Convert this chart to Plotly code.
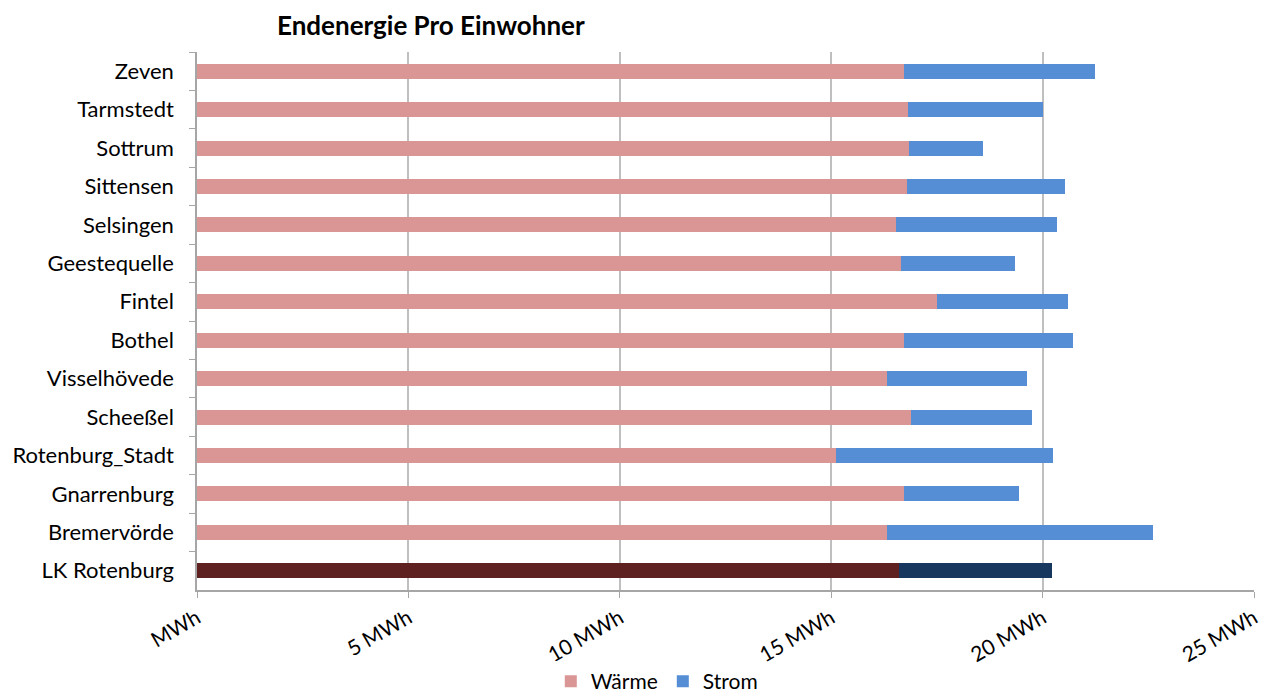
import plotly.graph_objects as go

# Municipalities, listed top to bottom
gemeinden = ["Zeven", "Tarmstedt", "Sottrum", "Sittensen", "Selsingen", "Geestequelle",
             "Fintel", "Bothel", "Visselhövede", "Scheeßel", "Rotenburg_Stadt",
             "Gnarrenburg", "Bremervörde", "LK Rotenburg"]

# Final energy per inhabitant in MWh
waerme = [16.72, 16.81, 16.85, 16.79, 16.53, 16.65, 17.50, 16.71, 16.32, 16.88,
          15.12, 16.73, 16.33, 16.60]
strom = [4.51, 3.21, 1.74, 3.73, 3.80, 2.69, 3.11, 4.02, 3.31, 2.88,
         5.12, 2.70, 6.28, 3.63]

tick_vals = [0, 5, 10, 15, 20, 25]
tick_text = ["MWh", "5 MWh", "10 MWh", "15 MWh", "20 MWh", "25 MWh"]

# District total is highlighted with darker shades
waerme_colors = ["#D99694"] * (len(gemeinden) - 1) + ["#5E2120"]
strom_colors = ["#558ED5"] * (len(gemeinden) - 1) + ["#17375E"]

FONT = "Lato"

fig = go.Figure()
fig.add_trace(go.Bar(y=gemeinden, x=waerme, orientation="h", name="Wärme",
                     marker=dict(color=waerme_colors, line=dict(width=0))))
fig.add_trace(go.Bar(y=gemeinden, x=strom, orientation="h", name="Strom",
                     marker=dict(color=strom_colors, line=dict(width=0))))

fig.update_layout(
    barmode="stack",
    bargap=0.61,
    width=1264, height=695,
    margin=dict(l=197, r=10, t=52, b=105, autoexpand=False),
    plot_bgcolor="white", paper_bgcolor="white",
    font=dict(family=FONT, size=21, color="#000000"),
    showlegend=True,
    legend=dict(orientation="h", x=0.435, xanchor="center", y=-0.132, yanchor="top",
                font=dict(size=21), traceorder="normal", itemwidth=30),
    annotations=[dict(text="<b>Endenergie Pro Einwohner</b>", xref="paper", yref="paper",
                      x=(275 - 197) / 1057, y=1.0, xanchor="left", yanchor="bottom",
                      yshift=9, showarrow=False, font=dict(size=26, family=FONT))],
)

fig.update_xaxes(range=[0, 25], tickvals=tick_vals, ticktext=tick_text, tickangle=-30,
                 showgrid=True, gridcolor="#BFBFBF", gridwidth=1.5,
                 showline=True, linecolor="#A6A6A6", linewidth=1.5,
                 ticks="outside", ticklen=6, tickcolor="#A6A6A6",
                 tickfont=dict(size=21), zeroline=False, fixedrange=True,
                 automargin=False)
fig.update_yaxes(autorange="reversed", showline=True, linecolor="#A6A6A6", linewidth=1.5,
                 ticks="outside", tickson="boundaries", ticklen=6, tickcolor="#A6A6A6",
                 tickfont=dict(size=22), showgrid=False, ticklabelstandoff=17,
                 automargin=False)

fig.write_html("out.html")
